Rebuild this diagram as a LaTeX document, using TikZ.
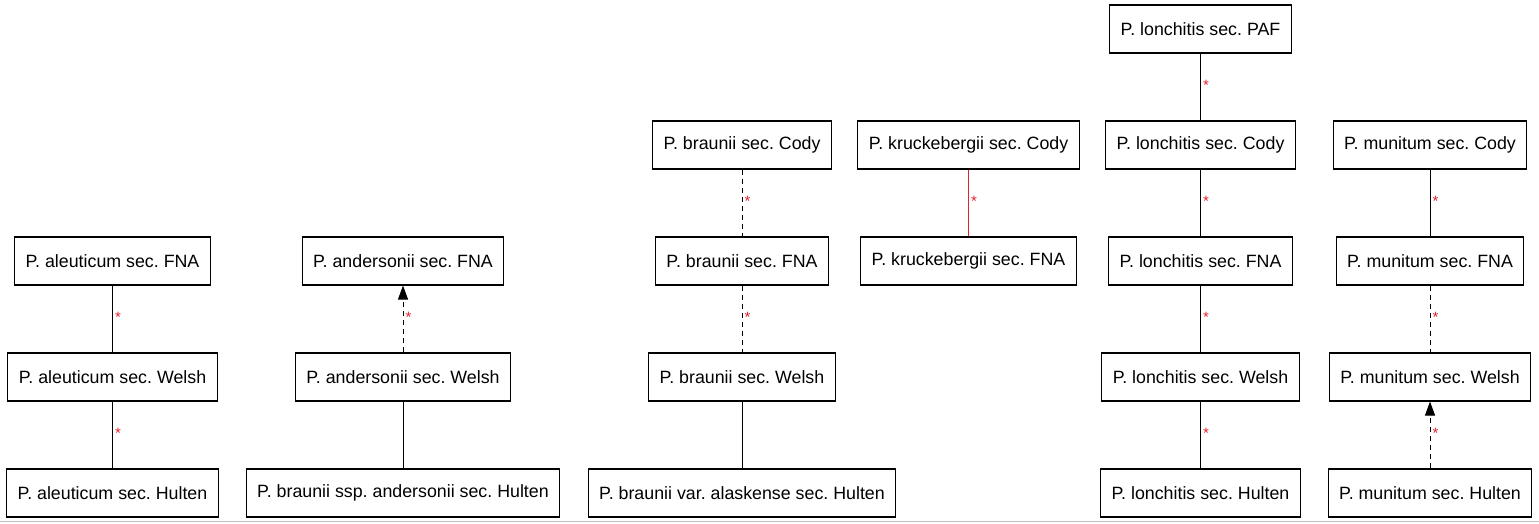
\documentclass[tikz,border=0pt]{standalone}
\usepackage{fontspec}
\setmainfont{Liberation Sans}
\usepackage{xcolor}
\usetikzlibrary{
arrows.meta,
chains,
scopes,
positioning
}
\definecolor{starred}{RGB}{228,32,44}
\frenchspacing

\begin{document}
\begin{tikzpicture}[
    x=1pt, y=1pt,
    >={Triangle[length=14pt,width=10pt]},
    node distance=66.9pt,
    base/.style={draw, line width=1.1pt, minimum height=48pt, inner xsep=11pt, inner ysep=2pt, align=center},
    proc/.style={base, font=\fontsize{17.8}{21}\selectfont},
    link/.style={draw, line width=1pt},
    dashlink/.style={link, dash pattern=on 5pt off 4pt},
    redlink/.style={link, draw=starred},
    ast/.style={right, inner sep=2pt, yshift=2pt, text=starred, font=\fontsize{15}{15}\selectfont}]
  \useasboundingbox (0,0) rectangle (1539,-523);
  \draw[black!25, line width=1.5pt] (0,-521.5) -- (1539,-521.5);
  { [start chain=al going below]
    \node[proc, on chain] (alFNA) at (112.5,-261) {P. aleuticum sec. FNA};
    \node[proc, on chain] (alWelsh) {P. aleuticum sec. Welsh};
    \node[proc, on chain] (alHulten) {P. aleuticum sec. Hulten};
  }
  { [start chain=an going below]
    \node[proc, on chain] (anFNA) at (403,-261) {P. andersonii sec. FNA};
    \node[proc, on chain] (anWelsh) {P. andersonii sec. Welsh};
    \node[proc, on chain] (anHulten) {P. braunii ssp. andersonii sec. Hulten};
  }
  { [start chain=br going below]
    \node[proc, on chain] (brCody) at (742,-145) {P. braunii sec. Cody};
    \node[proc, on chain] (brFNA) {P. braunii sec. FNA};
    \node[proc, on chain] (brWelsh) {P. braunii sec. Welsh};
    \node[proc, on chain] (brHulten) {P. braunii var. alaskense sec. Hulten};
  }
  { [start chain=kr going below]
    \node[proc, on chain] (krCody) at (968.5,-145) {P. kruckebergii sec. Cody};
    \node[proc, on chain] (krFNA) {P. kruckebergii sec. FNA};
  }
  { [start chain=lo going below]
    \node[proc, on chain] (loPAF) at (1200.5,-29) {P. lonchitis sec. PAF};
    \node[proc, on chain] (loCody) {P. lonchitis sec. Cody};
    \node[proc, on chain] (loFNA) {P. lonchitis sec. FNA};
    \node[proc, on chain] (loWelsh) {P. lonchitis sec. Welsh};
    \node[proc, on chain] (loHulten) {P. lonchitis sec. Hulten};
  }
  { [start chain=mu going below]
    \node[proc, on chain] (muCody) at (1430,-145) {P. munitum sec. Cody};
    \node[proc, on chain] (muFNA) {P. munitum sec. FNA};
    \node[proc, on chain] (muWelsh) {P. munitum sec. Welsh};
    \node[proc, on chain] (muHulten) {P. munitum sec. Hulten};
  }
  % links
  \draw[link] (alFNA) -- node[ast] {*} (alWelsh);
  \draw[link] (alWelsh) -- node[ast] {*} (alHulten);
  \draw[dashlink, ->] (anWelsh) -- node[ast] {*} (anFNA);
  \draw[link] (anWelsh) -- (anHulten);
  \draw[dashlink] (brCody) -- node[ast] {*} (brFNA);
  \draw[dashlink] (brFNA) -- node[ast] {*} (brWelsh);
  \draw[link] (brWelsh) -- (brHulten);
  \draw[redlink] (krCody) -- node[ast] {*} (krFNA);
  \draw[link] (loPAF) -- node[ast] {*} (loCody);
  \draw[link] (loCody) -- node[ast] {*} (loFNA);
  \draw[link] (loFNA) -- node[ast] {*} (loWelsh);
  \draw[link] (loWelsh) -- node[ast] {*} (loHulten);
  \draw[link] (muCody) -- node[ast] {*} (muFNA);
  \draw[dashlink] (muFNA) -- node[ast] {*} (muWelsh);
  \draw[dashlink, ->] (muHulten) -- node[ast] {*} (muWelsh);
\end{tikzpicture}
\end{document}
